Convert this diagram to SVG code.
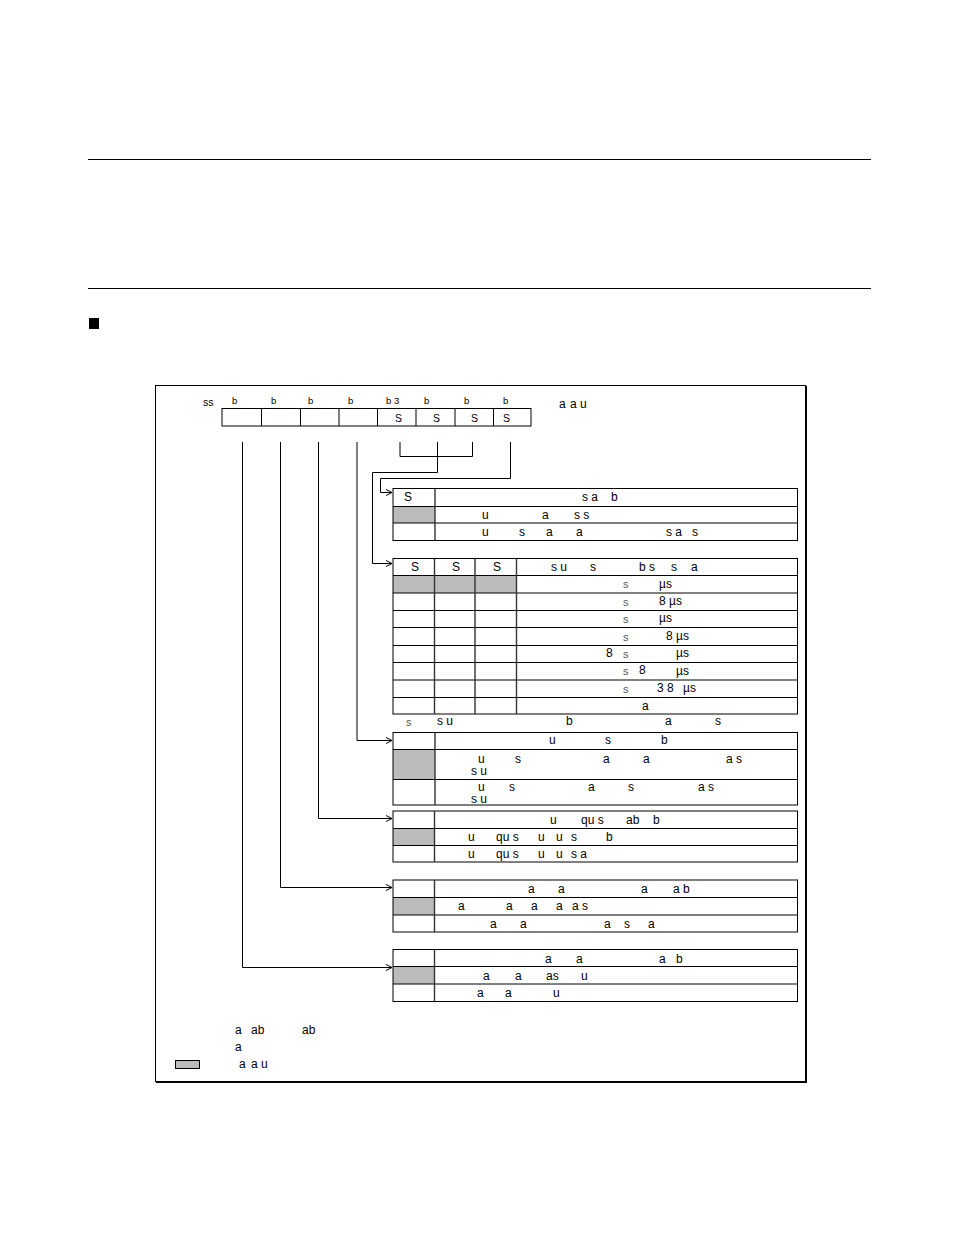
<svg xmlns="http://www.w3.org/2000/svg" width="954" height="1235" viewBox="0 0 954 1235">
<style>
text{font-family:"Liberation Sans",Arial,sans-serif;fill:#000}
.t{font-size:12px}
.r{font-size:9.5px}
.rs{font-size:10.5px}
.sm{font-size:11px;fill:#555}
.ln{stroke:#000;stroke-width:1;fill:none}
.cd{stroke:#333;stroke-width:1.4;fill:none}
.box{fill:#fff;stroke:#000;stroke-width:1}
.g{fill:#bbbbbb}
.cn{stroke:#000;stroke-width:1;fill:none}
</style>
<defs>
<marker id="ah" markerUnits="userSpaceOnUse" markerWidth="8" markerHeight="8" refX="7" refY="4" orient="auto">
<path d="M1,1 L7,4 L1,7" fill="none" stroke="#000" stroke-width="1"/>
</marker>
</defs>
<rect width="954" height="1235" fill="#fff"/>
<g id="rules">
<line x1="88" y1="159.5" x2="871" y2="159.5" class="ln"/>
<line x1="88" y1="288.5" x2="871" y2="288.5" class="ln"/>
<rect x="89" y="318" width="10" height="11" fill="#000"/>
</g>
<g id="frame">
<rect x="155.5" y="385.5" width="650" height="696" class="ln"/>
<line x1="806.5" y1="386" x2="806.5" y2="1083" class="ln"/>
<line x1="156" y1="1082.5" x2="807" y2="1082.5" class="ln"/>
</g>
<g id="register">
<text class="rs" x="203" y="406">ss</text>
<text class="r" y="404"><tspan x="232">b</tspan><tspan x="271">b</tspan><tspan x="308">b</tspan><tspan x="348">b</tspan><tspan x="386">b 3</tspan><tspan x="424">b</tspan><tspan x="464">b</tspan><tspan x="503">b</tspan></text>
<text class="t" x="559" y="408">a</text><text class="t" x="570" y="408">a u</text>
<rect x="222" y="408.5" width="309" height="17.5" class="box"/>
<path d="M261.5,408.5V426M300.5,408.5V426M339,408.5V426M377.5,408.5V426M416,408.5V426M455,408.5V426M493.5,408.5V426" class="ln"/>
<text class="rs" y="422"><tspan x="395">S</tspan><tspan x="433">S</tspan><tspan x="471">S</tspan><tspan x="503">S</tspan></text>
</g>
<g id="connectors">
<path d="M400,442V456.5H472.5V442" class="cn"/>
<path d="M437.5,442V472.5H372.5V563.5H392" class="cn" marker-end="url(#ah)"/>
<path d="M510.5,442V478.5H380.5V492.5H392" class="cn" marker-end="url(#ah)"/>
<path d="M357,442V740.5H392" class="cn" marker-end="url(#ah)"/>
<path d="M318.5,442V818.5H392" class="cn" marker-end="url(#ah)"/>
<path d="M280.5,442V887.5H392" class="cn" marker-end="url(#ah)"/>
<path d="M242.5,442V967.5H392" class="cn" marker-end="url(#ah)"/>
</g>
<g id="table1">
<rect x="393" y="506" width="42" height="17" class="g"/>
<rect x="393" y="488.5" width="404.5" height="52" class="ln"/>
<path d="M393,506.5H797.5M393,523H797.5" class="ln"/>
<path d="M435,488.5V540.5" class="cd"/>
<text class="t" x="404" y="501">S</text>
<text class="t" y="501"><tspan x="582">s a</tspan><tspan x="611">b</tspan></text>
<text class="t" y="519"><tspan x="482">u</tspan><tspan x="542">a</tspan><tspan x="574">s s</tspan></text>
<text class="t" y="536"><tspan x="482">u</tspan><tspan x="519">s</tspan><tspan x="546">a</tspan><tspan x="576">a</tspan><tspan x="666">s a</tspan><tspan x="692">s</tspan></text>
</g>
<g id="table2">
<rect x="393" y="575.5" width="124" height="17.5" class="g"/>
<rect x="393" y="558.5" width="404.5" height="155.5" class="ln"/>
<path d="M393,575.5H797.5M393,593H797.5M393,610.5H797.5M393,627.5H797.5M393,645.5H797.5M393,662.5H797.5M393,680H797.5M393,697.5H797.5" class="ln"/>
<path d="M434.5,558.5V714M475,558.5V714M516.5,558.5V714" class="cd"/>
<text class="t" y="571"><tspan x="411">S</tspan><tspan x="452">S</tspan><tspan x="493">S</tspan></text>
<text class="t" y="571"><tspan x="551">s u</tspan><tspan x="590">s</tspan><tspan x="639">b s</tspan><tspan x="671">s</tspan><tspan x="691">a</tspan></text>
<text class="sm" x="623" y="588">s</text><text class="t" x="659" y="588">µs</text>
<text class="sm" x="623" y="606">s</text><text class="t" x="659" y="605">8 µs</text>
<text class="sm" x="623" y="623">s</text><text class="t" x="659" y="622">µs</text>
<text class="sm" x="623" y="641">s</text><text class="t" x="666" y="640">8 µs</text>
<text class="t" x="606" y="657">8</text><text class="sm" x="623" y="658">s</text><text class="t" x="676" y="657">µs</text>
<text class="sm" x="623" y="675">s</text><text class="t" x="639" y="674">8</text><text class="t" x="676" y="675">µs</text>
<text class="sm" x="623" y="693">s</text><text class="t" x="657" y="692">3 8</text><text class="t" x="683" y="692">µs</text>
<text class="t" x="642" y="710">a</text>
<text class="sm" x="406" y="726">s</text>
<text class="t" y="725"><tspan x="437">s u</tspan><tspan x="566">b</tspan><tspan x="665">a</tspan><tspan x="715">s</tspan></text>
</g>
<g id="table3">
<rect x="393" y="749.5" width="42" height="30" class="g"/>
<rect x="393" y="732.5" width="404.5" height="72.5" class="ln"/>
<path d="M393,749.5H797.5M393,779.5H797.5" class="ln"/>
<path d="M435,732.5V805" class="cd"/>
<text class="t" y="744"><tspan x="549">u</tspan><tspan x="605">s</tspan><tspan x="661">b</tspan></text>
<text class="t" y="763"><tspan x="478">u</tspan><tspan x="515">s</tspan><tspan x="603">a</tspan><tspan x="643">a</tspan><tspan x="726">a s</tspan></text>
<text class="t" x="471" y="775">s u</text>
<text class="t" y="791"><tspan x="478">u</tspan><tspan x="509">s</tspan><tspan x="588">a</tspan><tspan x="628">s</tspan><tspan x="698">a s</tspan></text>
<text class="t" x="471" y="803">s u</text>
</g>
<g id="table4">
<rect x="393" y="828.5" width="42" height="17" class="g"/>
<rect x="393" y="811" width="404.5" height="51" class="ln"/>
<path d="M393,828.5H797.5M393,845.5H797.5" class="ln"/>
<path d="M434.5,811V862" class="cd"/>
<text class="t" y="824"><tspan x="550">u</tspan><tspan x="581">qu s</tspan><tspan x="626">ab</tspan><tspan x="653">b</tspan></text>
<text class="t" y="841"><tspan x="468">u</tspan><tspan x="496">qu s</tspan><tspan x="538">u</tspan><tspan x="556">u</tspan><tspan x="571">s</tspan><tspan x="606">b</tspan></text>
<text class="t" y="858"><tspan x="468">u</tspan><tspan x="496">qu s</tspan><tspan x="538">u</tspan><tspan x="556">u</tspan><tspan x="571">s a</tspan></text>
</g>
<g id="table5">
<rect x="393" y="897.5" width="42" height="17.5" class="g"/>
<rect x="393" y="880" width="404.5" height="52" class="ln"/>
<path d="M393,897.5H797.5M393,915H797.5" class="ln"/>
<path d="M434.5,880V932" class="cd"/>
<text class="t" y="893"><tspan x="528">a</tspan><tspan x="558">a</tspan><tspan x="641">a</tspan><tspan x="673">a b</tspan></text>
<text class="t" y="910"><tspan x="458">a</tspan><tspan x="506">a</tspan><tspan x="531">a</tspan><tspan x="556">a</tspan><tspan x="572">a s</tspan></text>
<text class="t" y="928"><tspan x="490">a</tspan><tspan x="520">a</tspan><tspan x="604">a</tspan><tspan x="624">s</tspan><tspan x="648">a</tspan></text>
</g>
<g id="table6">
<rect x="393" y="966.5" width="42" height="17.5" class="g"/>
<rect x="393" y="949.5" width="404.5" height="52" class="ln"/>
<path d="M393,966.5H797.5M393,984H797.5" class="ln"/>
<path d="M434.5,949.5V1001.5" class="cd"/>
<text class="t" y="963"><tspan x="545">a</tspan><tspan x="576">a</tspan><tspan x="659">a</tspan><tspan x="676">b</tspan></text>
<text class="t" y="980"><tspan x="483">a</tspan><tspan x="515">a</tspan><tspan x="546">as</tspan><tspan x="581">u</tspan></text>
<text class="t" y="997"><tspan x="477">a</tspan><tspan x="505">a</tspan><tspan x="553">u</tspan></text>
</g>
<g id="legend">
<text class="t" y="1034"><tspan x="235">a</tspan><tspan x="251">ab</tspan><tspan x="302">ab</tspan></text>
<text class="t" x="235" y="1051">a</text>
<rect x="175.5" y="1060.5" width="24" height="8" fill="#bbbbbb" stroke="#000" stroke-width="1"/>
<text class="t" y="1068"><tspan x="239">a</tspan><tspan x="251">a u</tspan></text>
</g>
</svg>
